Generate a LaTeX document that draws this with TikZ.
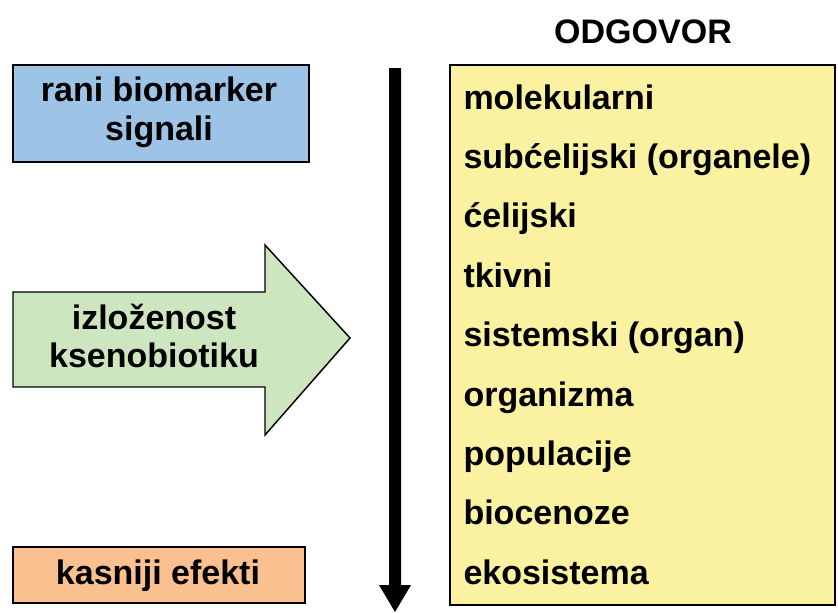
\documentclass[tikz,border=0pt]{standalone}
\usepackage{fontspec}
\setmainfont{Liberation Sans}
\definecolor{raniFill}{RGB}{157,195,230}
\definecolor{izloFill}{RGB}{205,230,192}
\definecolor{kasFill}{RGB}{250,192,143}
\definecolor{odgFill}{RGB}{250,242,160}
\tikzset{every picture/.style={line width=0.75pt}}
\tikzset{lbl/.style={inner sep=0.75pt, font=\fontsize{25.5}{29}\selectfont\bfseries, align=center},
  item/.style={lbl, anchor=base west}}

\begin{document}
\begin{tikzpicture}[x=0.75pt,y=0.75pt,yscale=-1,xscale=1]
\useasboundingbox (0,0) rectangle (838,612);

%Shape: Rectangle [id:rani] 
\draw  [fill=raniFill, line width=1.1pt] (13,65) rectangle (309,162) ;
%Shape: Right Arrow [id:izlo] 
\draw  [fill=izloFill, line width=1.1pt] (13,292) -- (265,292) -- (265,245) -- (350,338) -- (265,435) -- (265,387) -- (13,387) -- cycle ;
%Shape: Rectangle [id:kas] 
\draw  [fill=kasFill, line width=1.1pt] (13,547) rectangle (305,603) ;
%Shape: Rectangle [id:odg] 
\draw  [fill=odgFill, line width=1.1pt] (450,65) rectangle (835,605) ;
%Shape: Down Arrow [id:tok] 
\fill (389,68) -- (401,68) -- (401,585) -- (411,585) -- (395,612) -- (379,585) -- (389,585) -- cycle ;

% Text Node
\draw (159,112) node (rani) [lbl] {rani biomarker\\signali};
% Text Node
\draw (154,336) node (izlo) [lbl] {izloženost\\ksenobiotiku};
% Text Node
\draw (158,576) node (kas) [lbl] {kasniji efekti};
% Text Node
\draw (643,32) node (odg) [lbl] {ODGOVOR};

% Text Nodes
\foreach \txt [count=\i from 0] in {molekularni, subćelijski (organele), ćelijski, tkivni, sistemski (organ), organizma, populacije, biocenoze, ekosistema}
  \draw (462,{109+59.4*\i}) node (lvl\i) [item] {\txt};

\end{tikzpicture}
\end{document}
